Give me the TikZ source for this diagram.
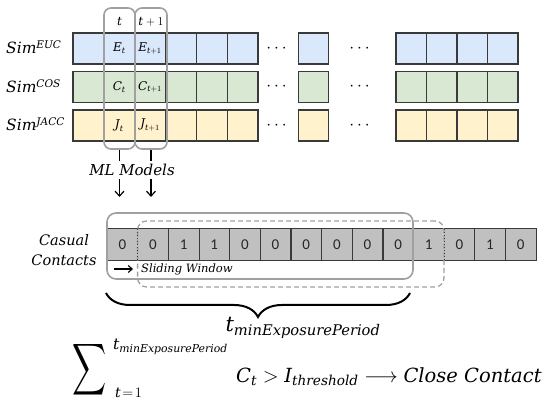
\documentclass[tikz,border=0pt]{standalone}
\usepackage{fontspec}
\usepackage{amsmath}
\usepackage{graphicx}
\newfontfamily\cellfont{Carlito}
\newfontfamily\cam{DejaVu Serif}
\newcommand\mi[1]{\text{\cam\itshape #1}}
\newcommand\simlbl[1]{{\cam\itshape Sim\raisebox{5pt}{\fontsize{10.5}{11}\selectfont #1}}}
\usetikzlibrary{decorations.pathreplacing,arrows.meta}
\definecolor{cblue}{HTML}{DAE8FC}
\definecolor{cgreen}{HTML}{D8E8D2}
\definecolor{cyellow}{HTML}{FFF2CC}
\definecolor{cborder}{HTML}{3A3A3A}
\definecolor{cgcell}{HTML}{C0C0C0}
\definecolor{cgline}{HTML}{A0A0A0}
\begin{document}
\begin{tikzpicture}[x=1pt,y=-1pt,
  gridcell/.style={draw=cborder,line width=1.1pt,minimum width=30.8pt,minimum height=31pt,inner sep=0pt},
  intext/.style={inner sep=0pt,font=\fontsize{12}{12}\selectfont},
  ccell/.style={fill=cgcell,minimum width=30.64pt,minimum height=31pt,inner sep=0pt,text=black!85,font=\cellfont\fontsize{15}{15}\selectfont},
  gbox/.style={draw=cgline,line width=1.6pt,rounded corners=7pt,inner sep=0pt},
  lbl/.style={inner sep=0pt,font=\fontsize{15.5}{16}\selectfont},
  arr/.style={line width=1.2pt,-{Straight Barb[length=5pt,width=9pt]}},
  tick/.style={line width=1.3pt},
  dotsnode/.style={inner sep=0pt,font=\fontsize{16}{16}\selectfont}]
\useasboundingbox (0,0) rectangle (550,409);
% ---- top grid ----
\foreach \r/\col/\yy in {1/cblue/48.5,2/cgreen/87,3/cyellow/125.5}{
  \foreach \i in {0,...,5}{
    \node[gridcell,fill=\col] (a\r\i) at ({73+30.83*(\i+0.5)},\yy) {};
  }
  \node[gridcell,fill=\col] (b\r) at (313.5,\yy) {};
  \foreach \i in {0,...,3}{
    \node[gridcell,fill=\col,minimum width=30.5pt] (d\r\i) at ({396+30.5*(\i+0.5)},\yy) {};
  }
  \node[dotsnode] (p\r) at (278,\yy) {$\cdots$};
  \node[dotsnode] (q\r) at (361,\yy) {$\cdots$};
}
\node[intext] at (a11) {$\mi{E}_{\mi{t}}$};
\node[intext] at (a12) {$\mi{E}_{\mi{t}+1}$};
\node[intext] at (a21) {$\mi{C}_{\mi{t}}$};
\node[intext] at (a22) {$\mi{C}_{\mi{t}+1}$};
\node[intext] at (a31) {$\mi{J}_{\mi{t}}$};
\node[intext] at (a32) {$\mi{J}_{\mi{t}+1}$};
\node[lbl,anchor=west] (s1) at (6,47) {\simlbl{EUC}};
\node[lbl,anchor=west] (s2) at (6,86) {\simlbl{COS}};
\node[lbl,anchor=west] (s3) at (6,124) {\simlbl{JACC}};
% time windows
\node[gbox,minimum width=31pt,minimum height=141pt] (bt) at (119.5,78.5) {};
\node[gbox,minimum width=32pt,minimum height=141pt] (bt1) at (151,78.5) {};
\node[intext] (lt) at (119.5,22) {$\mi{t}$};
\node[intext] (lt1) at (151,22) {$\mi{t}+1$};
\draw[tick] (bt.south) -- ++(0,11);
\draw[tick] (bt1.south) -- ++(0,11);
\node[font=\fontsize{15}{15}\selectfont] (ml) at (132,170) {$\mi{ML Models}$};
\coordinate (m1) at (119.5,197);
\coordinate (m2) at (151,197);
\draw[arr] (ml.south -| m1) -- (m1);
\draw[arr] (ml.south -| m2) -- (m2);
% ---- casual contacts ----
\foreach \k/\v in {1/0,2/0,3/1,4/1,5/0,6/0,7/0,8/0,9/0,10/0,11/1,12/0,13/1,14/0}{
  \node[ccell] (c\k) at ({107+30.64*(\k-0.5)},244.5) {\v};
}
\foreach \j in {2,...,9,12,13}{
  \draw[cborder,line width=1.1pt] (c\j.north east) -- (c\j.south east);
}
\draw[cborder,line width=1.1pt] (c1.north west) rectangle (c14.south east);
\node[gbox,rounded corners=9pt,minimum width=306pt,minimum height=66pt] (w1) at (260,246) {};
\node[gbox,rounded corners=9pt,dashed,dash pattern=on 5pt off 3pt,line width=1.3pt,minimum width=306.4pt,minimum height=66pt] (w2) at (290.8,254) {};
\draw[cborder,line width=1pt,dotted] (c1.north east) -- (c1.south east);
\draw[cborder,line width=1pt,dotted] (c11.north east) -- (c11.south east);
\node[align=center,font=\cam\itshape\fontsize{14.5}{20}\selectfont] (cc) at (64,250) {Casual\\Contacts};
\node[anchor=west,inner sep=0pt,font=\cam\itshape\fontsize{11.5}{12}\selectfont] (sw) at (141,269) {Sliding Window};
\coordinate (sa) at (114,269);
\draw[line width=1.1pt,-{Straight Barb[length=4pt,width=7pt]}] (sa) -- ([xshift=-8pt]sw.west);
% brace
\coordinate (br1) at (106,293);
\coordinate (br2) at (410,293);
\draw[line width=2pt,decorate,decoration={brace,mirror,amplitude=24pt}] (br1) -- (br2);
\node[font=\fontsize{21}{21}\selectfont] (tmin) at (303,328) {$\mi{t}_{\mi{minExposurePeriod}}$};
% ---- formula ----
\node[inner sep=0pt] (sum) at (90,370) {\scalebox{0.95}[1.45]{\fontsize{30}{30}\selectfont$\displaystyle\sum$}};
\node[anchor=west,inner sep=0pt,font=\fontsize{15.5}{16}\selectfont] (up) at (113,347) {$\mi{t}_{\mi{minExposurePeriod}}$};
\node[anchor=west,inner sep=0pt,font=\fontsize{14}{14}\selectfont] (lo) at (115,393) {$\mi{t}\!=\!1$};
\node[anchor=west,inner sep=0pt,font=\fontsize{19.5}{20}\selectfont] (rest) at (236,377) {$\mi{C}_{\mi{t}} > \mi{I}_{\mi{threshold}} \longrightarrow \mi{Close Contact}$};
\end{tikzpicture}
\end{document}
